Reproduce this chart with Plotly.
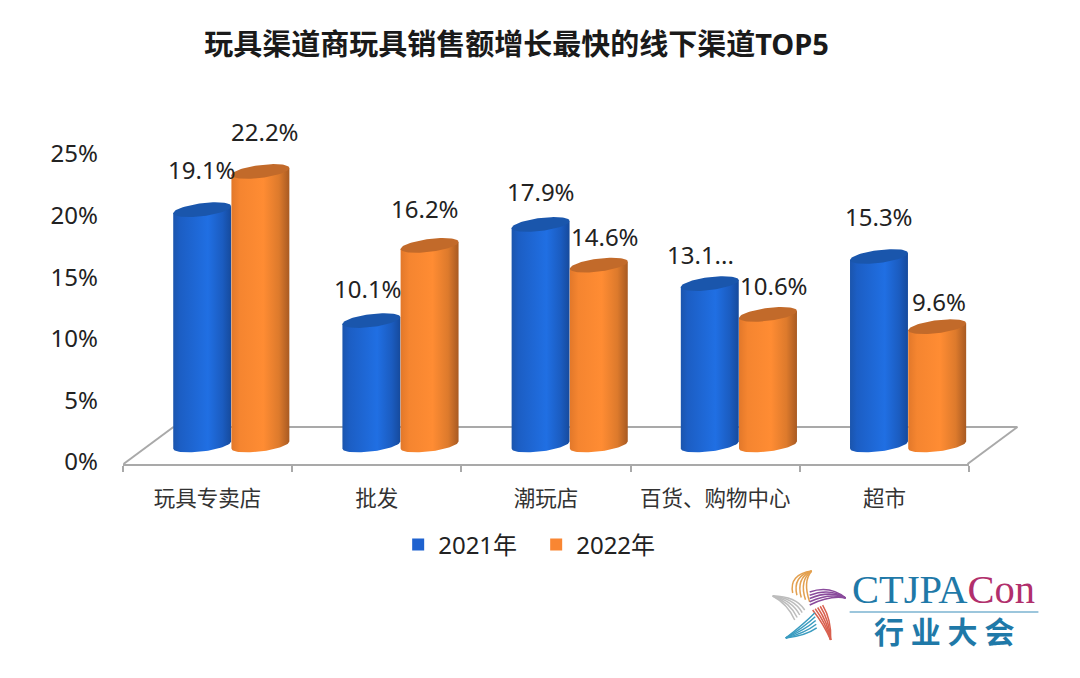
import numpy as np
import plotly.graph_objects as go

categories = ["玩具专卖店", "批发", "潮玩店", "百货、购物中心", "超市"]
values_2021 = [19.1, 10.1, 17.9, 13.1, 15.3]
values_2022 = [22.2, 16.2, 14.6, 10.6, 9.6]
labels_2021 = ["19.1%", "10.1%", "17.9%", "13.1...", "15.3%"]
labels_2022 = ["22.2%", "16.2%", "14.6%", "10.6%", "9.6%"]
y_ticks = [0, 5, 10, 15, 20, 25]
y_tick_text = ["0%", "5%", "10%", "15%", "20%", "25%"]

# label nudges (px) relative to each cylinder's top
dx_2021 = [0, -3, 0, -9, 0]
dy_2021 = [40, 32, 33, 29, 40]
dx_2022 = [5, -5, 6, 6, 2]
dy_2022 = [40, 37, 29, 29, 25]

W, H = 1080, 678
L, R, T, B = 122.5, 969.5, 100, 464
SLOT = (R - L) / 5
PXY = 12.32
ZERO_AXIS = 462
ZERO_BAR = 445

FONT = "Noto Sans, Noto Sans CJK SC, sans-serif"
RX = 29 / SLOT
RY = 6.5 / PXY
TILT = 3.5 / PXY
OFF = [0.468, 0.812]

BLUE_GRAD = [[0, "#1b55ad"], [0.12, "#1c5ec4"], [0.6, "#206fe3"], [0.85, "#1b5cc0"], [1, "#164a9c"]]
ORANGE_GRAD = [[0, "#e2782a"], [0.15, "#f58530"], [0.55, "#ff8c33"], [0.82, "#dd7a2c"], [1, "#a85a22"]]
CAPS = ["#1a56ac", "#c26a2a"]
SWATCH = ["#1f62cf", "#f98632"]

fig = go.Figure()
years = ["2021年", "2022年"]
series = [values_2021, values_2022]
grads = [BLUE_GRAD, ORANGE_GRAD]

# Empty trace keeps the labelled y axis alive (the cylinders use the shifted overlay axis)
fig.add_trace(go.Scatter(x=[None], y=[None], xaxis="x", yaxis="y", mode="lines",
                         showlegend=False, hoverinfo="skip"))

# Underlying real bars (also give the legend swatches)
for s in range(2):
    fig.add_trace(go.Bar(
        x=[i + OFF[s] for i in range(5)], y=series[s], name=years[s], width=RX * 1.1,
        marker=dict(color=SWATCH[s], line=dict(width=0)), yaxis="y2", xaxis="x",
        hoverinfo="skip",
    ))

t1 = np.linspace(np.pi, 0, 40)
t2 = np.linspace(0, np.pi, 40)
tc = np.linspace(0, 2 * np.pi, 80)
for i in range(5):
    for s in range(2):
        cx = i + OFF[s]
        v = series[s][i]
        xs = np.r_[cx + RX * np.cos(t1), cx + RX * np.cos(t2)]
        ys = np.r_[-RY * np.sin(t1) + TILT * np.cos(t1), v + TILT * np.cos(t2)]
        fig.add_trace(go.Scatter(
            x=xs, y=ys, yaxis="y2", mode="lines", line=dict(width=0), fill="toself",
            fillgradient=dict(type="horizontal", colorscale=grads[s]),
            showlegend=False, hoverinfo="skip",
        ))
        fig.add_trace(go.Scatter(
            x=cx + RX * np.cos(tc), y=v + RY * np.sin(tc) + TILT * np.cos(tc), yaxis="y2",
            mode="lines", line=dict(width=0), fill="toself", fillcolor=CAPS[s],
            showlegend=False, hoverinfo="skip",
        ))

ann = []
for s, (labels, dx, dy) in enumerate([(labels_2021, dx_2021, dy_2021), (labels_2022, dx_2022, dy_2022)]):
    for i in range(5):
        ann.append(dict(
            x=i + OFF[s], y=series[s][i], xref="x", yref="y2", text=labels[i], showarrow=False,
            xshift=dx[i], yshift=dy[i], xanchor="center", yanchor="middle",
            font=dict(family=FONT, size=24, color="#222222"),
        ))


def px(x):
    return (x - L) / (R - L)


def py(y):
    return (B - y) / (B - T)


ann.append(dict(
    x=px(944), y=py(589), xref="paper", yref="paper", showarrow=False, xanchor="center", yanchor="middle",
    text='<span style="color:#1f79a8">CTJPA</span><span style="color:#b12f6c">Con</span>',
    font=dict(family="Liberation Serif, serif", size=40.5),
))
ann.append(dict(
    x=px(944), y=py(630), xref="paper", yref="paper", showarrow=False, xanchor="center", yanchor="middle",
    text="<b>行 业 大 会</b>",
    font=dict(family="Noto Sans CJK SC", size=30, color="#1f79a8"),
))

shapes = []
line = dict(color="#a9a9a9", width=2)
low = -2 / PXY
FLOOR = [(173, 427, 1018, 427), (123, 464, 173, 427), (968, 464, 1018, 427)]
for x0, y0, x1, y1 in FLOOR:
    shapes.append(dict(type="line", xref="paper", yref="paper", x0=px(x0), x1=px(x1), y0=py(y0), y1=py(y1),
                       line=line, layer="below"))
shapes.append(dict(type="line", xref="paper", yref="paper", x0=px(850), x1=px(1039), y0=py(612), y1=py(612),
                   line=dict(color="#3a8dba", width=1.2)))

blades = [
    ("#e3a04f", (793, 593), (810, 602), (796, 578), (812, 571)),
    ("#8a4b9c", (810, 592), (810, 605), (830, 590), (846, 598)),
    ("#d9604f", (823, 605), (813, 610), (828, 622), (831, 640)),
    ("#3b9cc0", (815, 613), (817, 628), (805, 630), (786, 638)),
    ("#bdbdbd", (805, 610), (795, 620), (792, 600), (773, 596)),
]
for color, a, b, c, tip in blades:
    for f in [0, 0.25, 0.5, 0.75, 1]:
        sx = a[0] + (b[0] - a[0]) * f
        sy = a[1] + (b[1] - a[1]) * f
        cx_ = c[0] + (sx - (a[0] + b[0]) / 2) * 0.8
        cy_ = c[1] + (sy - (a[1] + b[1]) / 2) * 0.8
        path = f"M {px(sx):.4f} {py(sy):.4f} Q {px(cx_):.4f} {py(cy_):.4f} {px(tip[0]):.4f} {py(tip[1]):.4f}"
        shapes.append(dict(type="path", xref="paper", yref="paper", path=path, line=dict(color=color, width=1.5)))

fig.update_layout(
    width=W, height=H, autosize=False, paper_bgcolor="white", plot_bgcolor="white",
    margin=dict(l=L, r=W - R, t=T, b=H - B, pad=0),
    barmode="overlay", showlegend=True,
    title=dict(
        text="<b>玩具渠道商玩具销售额增长最快的线下渠道TOP5</b>", x=516.5 / W, xanchor="center", xref="container",
        y=1 - 45 / H, yref="container", yanchor="middle",
        font=dict(family=FONT, size=29, color="#1a1a1a"),
    ),
    xaxis=dict(
        range=[0, 5], tickmode="array", tickvals=[i + 0.5 for i in range(5)], ticktext=categories,
        ticks="", showgrid=False, zeroline=False, showline=True, linecolor="#a9a9a9", linewidth=2,
        tickfont=dict(family=FONT, size=21.5, color="#333333"), ticklabelstandoff=14, tickangle=0,
        minor=dict(tickmode="array", tickvals=[0, 1, 2, 3, 4, 5], ticks="outside", ticklen=6, tickcolor="#a9a9a9", tickwidth=1.5),
    ),
    yaxis=dict(
        range=[low, (ZERO_AXIS - T) / PXY], tickmode="array", tickvals=y_ticks, ticktext=y_tick_text,
        ticks="", showgrid=False, zeroline=False, showline=False,
        tickfont=dict(family=FONT, size=24, color="#222222"), ticklabelstandoff=24,
    ),
    yaxis2=dict(
        range=[-(B - ZERO_BAR) / PXY, (ZERO_BAR - T) / PXY], overlaying="y", visible=False, side="left",
    ),
    legend=dict(
        orientation="h", x=px(398), y=py(545), xanchor="left", yanchor="middle",
        entrywidth=93, entrywidthmode="pixels",
        font=dict(family=FONT, size=24, color="#222222"), bgcolor="rgba(0,0,0,0)",
        itemclick=False, itemdoubleclick=False,
    ),
    annotations=ann, shapes=shapes,
)

fig.write_html("out.html", config=dict(displayModeBar=False),
               post_script="document.body.style.margin='0';")
